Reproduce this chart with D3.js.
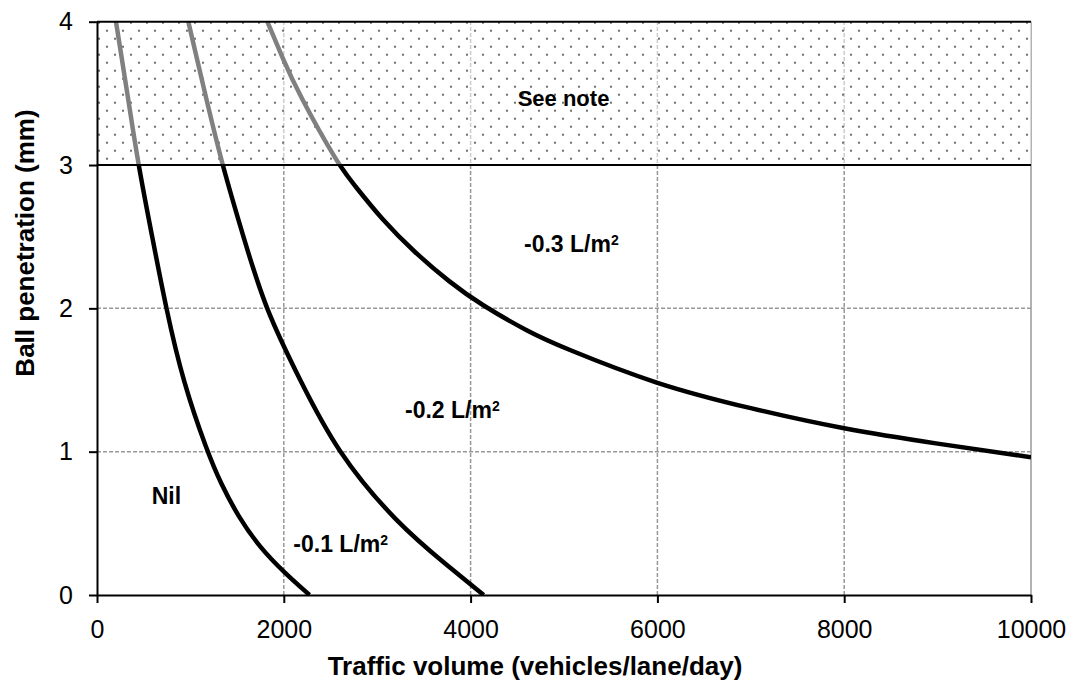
<!DOCTYPE html>
<html>
<head>
<meta charset="utf-8">
<script src="https://cdn.jsdelivr.net/npm/d3@7"></script>
<style>
  body { margin: 0; background: #fff; }
  svg { display: block; font-family: "Liberation Sans", Arial, sans-serif; }
</style>
</head>
<body>
<svg id="chart" width="1070" height="680"></svg>
<script>
// tick values
var xTicks = [0, 2000, 4000, 6000, 8000, 10000];
var yTicks = [0, 1, 2, 3, 4];

// boundary curves (x = vehicles/lane/day, y = mm)
var curve1X = [203, 264, 325, 442, 585, 739, 924, 1181, 1324, 1513, 1745, 2000, 2275];
var curve1Y = [4, 3.75, 3.5, 3, 2.52, 2.0, 1.48, 1.0, 0.78, 0.546, 0.33, 0.16, 0];

var curve2X = [978, 1067, 1156, 1340, 1567, 1799, 2173, 2566, 3209, 3762, 4140];
var curve2Y = [4, 3.75, 3.5, 3, 2.5, 2.0, 1.5, 1.0, 0.5, 0.2, 0];

var curve3X = [1824, 1985, 2156, 2584, 2744, 3050, 3400, 3780, 4100, 4636, 4957, 6000, 7000, 8000, 9000, 10000];
var curve3Y = [4, 3.75, 3.5, 3, 2.87, 2.62, 2.39, 2.18, 2.03, 1.83, 1.735, 1.465, 1.30, 1.156, 1.055, 0.961];

// zone labels: text, x value, y value (baseline)
var zoneText = ["Nil", "-0.1 L/m", "-0.2 L/m", "-0.3 L/m"];
var zoneX = [586, 2102, 3298, 4572];
var zoneY = [0.635, 0.30, 1.233, 2.395];

var noteText = "See note";
var noteX = 4504, noteY = 3.412;
var limitY = 3;   // lower edge of the shaded band

var svg = d3.select("#chart");

var x = d3.scaleLinear().domain([0, 10000]).range([97, 1031]);
var y = d3.scaleLinear().domain([0, 4]).range([595, 21.7]);

var defs = svg.append("defs");

var pat = defs.append("pattern")
  .attr("id", "dots")
  .attr("patternUnits", "userSpaceOnUse")
  .attr("width", 16).attr("height", 16)
  .attr("x", x(0) + 9).attr("y", y(4) + 8);
pat.append("rect").attr("x", 0).attr("y", 0).attr("width", 2).attr("height", 2).attr("fill", "#707070");
pat.append("rect").attr("x", 8).attr("y", 8).attr("width", 2).attr("height", 2).attr("fill", "#707070");

// clip regions above and below the limit line
defs.append("clipPath").attr("id", "above")
  .append("rect")
  .attr("x", x(0)).attr("y", y(4))
  .attr("width", x(10000) - x(0)).attr("height", y(limitY) - y(4));
defs.append("clipPath").attr("id", "below")
  .append("rect")
  .attr("x", x(0)).attr("y", y(limitY))
  .attr("width", x(10000) - x(0)).attr("height", y(0) - y(limitY));

// gridlines
var grid = svg.append("g");
grid.selectAll(".vg")
  .data(xTicks.filter(function (d) { return d > 0 && d < 10000; }))
  .enter().append("line")
  .attr("x1", function (d) { return x(d); })
  .attr("x2", function (d) { return x(d); })
  .attr("y1", y(0)).attr("y2", y(4))
  .attr("stroke", "#999").attr("stroke-width", 1.5)
  .attr("stroke-dasharray", "4,2");
grid.selectAll(".hg")
  .data(yTicks.filter(function (d) { return d > 0 && d < 4; }))
  .enter().append("line")
  .attr("x1", x(0)).attr("x2", x(10000))
  .attr("y1", function (d) { return y(d); })
  .attr("y2", function (d) { return y(d); })
  .attr("stroke", "#999").attr("stroke-width", 1.5)
  .attr("stroke-dasharray", "4,2");

// right border
svg.append("line")
  .attr("x1", x(10000)).attr("x2", x(10000))
  .attr("y1", y(0)).attr("y2", y(4))
  .attr("stroke", "#999").attr("stroke-width", 1.5);

// shaded band
svg.append("rect")
  .attr("x", x(0)).attr("y", y(4))
  .attr("width", x(10000) - x(0)).attr("height", y(limitY) - y(4))
  .attr("fill", "#fff").attr("fill-opacity", 0.5);
svg.append("rect")
  .attr("x", x(0)).attr("y", y(4))
  .attr("width", x(10000) - x(0)).attr("height", y(limitY) - y(4))
  .attr("fill", "url(#dots)");

// curves
var line = d3.line()
  .x(function (d) { return x(d[0]); })
  .y(function (d) { return y(d[1]); })
  .curve(d3.curveBasis);

var curves = [d3.zip(curve1X, curve1Y), d3.zip(curve2X, curve2Y), d3.zip(curve3X, curve3Y)];

svg.append("g").attr("clip-path", "url(#above)")
  .selectAll("path").data(curves).enter().append("path")
  .attr("d", line)
  .attr("fill", "none").attr("stroke", "#808080").attr("stroke-width", 4.5);

svg.append("g").attr("clip-path", "url(#below)")
  .selectAll("path").data(curves).enter().append("path")
  .attr("d", line)
  .attr("fill", "none").attr("stroke", "#000").attr("stroke-width", 4.5);

// band edges
svg.selectAll(".edge")
  .data([limitY, 4])
  .enter().append("line")
  .attr("x1", x(0)).attr("x2", x(10000))
  .attr("y1", function (d) { return y(d); })
  .attr("y2", function (d) { return y(d); })
  .attr("stroke", "#000").attr("stroke-width", 2);

// axes
var xAxis = svg.append("g")
  .attr("transform", "translate(0," + y(0) + ")")
  .call(d3.axisBottom(x).tickValues(xTicks).tickFormat(d3.format("d"))
    .tickSize(8).tickSizeOuter(0).tickPadding(17));

var yAxis = svg.append("g")
  .attr("transform", "translate(" + x(0) + ",0)")
  .call(d3.axisLeft(y).tickValues(yTicks).tickFormat(d3.format("d"))
    .tickSize(8).tickSizeOuter(0).tickPadding(16));

[xAxis, yAxis].forEach(function (a) {
  a.select(".domain").attr("stroke", "#000").attr("stroke-width", 2);
  a.selectAll(".tick line").attr("stroke", "#000").attr("stroke-width", 2);
  a.selectAll(".tick text")
    .attr("fill", "#000")
    .style("font-family", "'Liberation Sans', Arial, sans-serif")
    .style("font-size", "25px");
});

// axis titles
svg.append("text")
  .attr("x", 535).attr("y", 675)
  .attr("text-anchor", "middle")
  .style("font-size", "26px").style("font-weight", "bold")
  .text("Traffic volume (vehicles/lane/day)");

svg.append("text")
  .attr("transform", "translate(33.5,243) rotate(-90)")
  .attr("text-anchor", "middle")
  .style("font-size", "26px").style("font-weight", "bold")
  .text("Ball penetration (mm)");

// zone labels
var labels = svg.append("g")
  .style("font-size", "23px").style("font-weight", "bold");

zoneText.forEach(function (t, i) {
  var tx = labels.append("text")
    .attr("x", x(zoneX[i]))
    .attr("y", y(zoneY[i]))
    .text(t);
  if (i > 0) {
    tx.append("tspan")
      .attr("dy", -7)
      .style("font-size", "14px")
      .text("2");
  }
});

labels.append("text")
  .attr("x", x(noteX)).attr("y", y(noteY))
  .style("font-size", "22px")
  .text(noteText);
</script>
</body>
</html>
